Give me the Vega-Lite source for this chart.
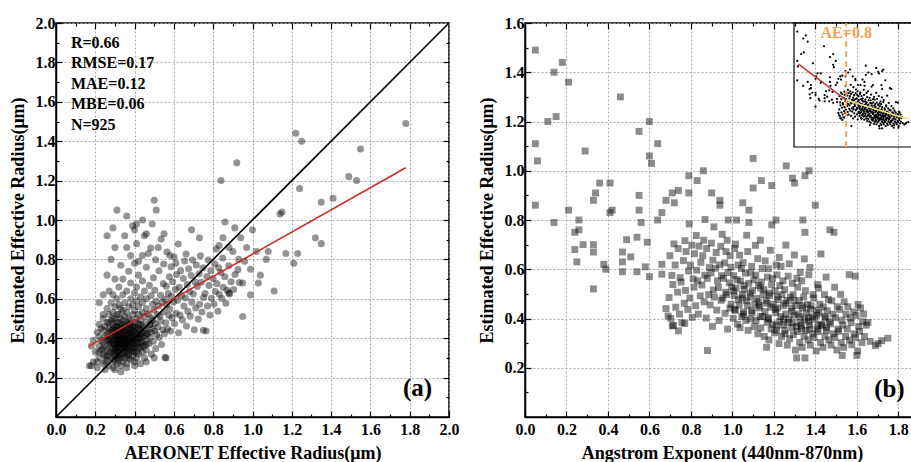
{
"$schema": "https://vega.github.io/schema/vega-lite/v6.json",
"padding": {"left": 8, "top": 14, "right": 0, "bottom": 0},
"spacing": 17,
"background": "white",
"config": {
 "view": {"stroke": "black", "strokeWidth": 1.5},
 "axis": {"labelFont": "Liberation Serif", "labelFontWeight": "bold", "labelFontSize": 16, "labelColor": "black", "labelFlush": false, "labelOverlap": false, "titleFont": "Liberation Serif", "titleFontWeight": "bold", "titleFontSize": 18, "titleColor": "black", "domainColor": "black", "domainWidth": 1.5, "tickColor": "black", "tickWidth": 1.2, "gridColor": "#a8a8a8", "gridDash": [2, 2], "gridWidth": 1},
 "axisX": {"labelPadding": 10, "titlePadding": 4},
 "axisY": {"labelPadding": 7, "titlePadding": 8},
 "text": {"font": "Liberation Serif", "fontWeight": "bold"}
},
"datasets": {
 "a": [
{"x":0.22,"y":0.30},{"x":0.22,"y":0.36},{"x":0.22,"y":0.41},{"x":0.22,"y":0.47},{"x":0.22,"y":0.33},
{"x":0.24,"y":0.27},{"x":0.24,"y":0.32},{"x":0.24,"y":0.38},{"x":0.24,"y":0.44},{"x":0.24,"y":0.50},{"x":0.24,"y":0.35},
{"x":0.26,"y":0.29},{"x":0.26,"y":0.34},{"x":0.26,"y":0.39},{"x":0.26,"y":0.42},{"x":0.26,"y":0.48},{"x":0.26,"y":0.55},{"x":0.26,"y":0.31},
{"x":0.27,"y":0.26},{"x":0.27,"y":0.37},{"x":0.27,"y":0.45},{"x":0.27,"y":0.52},{"x":0.27,"y":0.40},
{"x":0.28,"y":0.30},{"x":0.28,"y":0.33},{"x":0.28,"y":0.36},{"x":0.28,"y":0.41},{"x":0.28,"y":0.44},{"x":0.28,"y":0.49},{"x":0.28,"y":0.58},{"x":0.28,"y":0.38},
{"x":0.29,"y":0.25},{"x":0.29,"y":0.32},{"x":0.29,"y":0.39},{"x":0.29,"y":0.43},{"x":0.29,"y":0.47},{"x":0.29,"y":0.53},{"x":0.29,"y":0.62},
{"x":0.30,"y":0.28},{"x":0.30,"y":0.31},{"x":0.30,"y":0.35},{"x":0.30,"y":0.37},{"x":0.30,"y":0.40},{"x":0.30,"y":0.42},{"x":0.30,"y":0.46},{"x":0.30,"y":0.50},{"x":0.30,"y":0.56},{"x":0.30,"y":0.34},
{"x":0.31,"y":0.27},{"x":0.31,"y":0.33},{"x":0.31,"y":0.36},{"x":0.31,"y":0.39},{"x":0.31,"y":0.41},{"x":0.31,"y":0.44},{"x":0.31,"y":0.48},{"x":0.31,"y":0.60},{"x":0.31,"y":0.38},
{"x":0.32,"y":0.29},{"x":0.32,"y":0.31},{"x":0.32,"y":0.34},{"x":0.32,"y":0.37},{"x":0.32,"y":0.40},{"x":0.32,"y":0.43},{"x":0.32,"y":0.45},{"x":0.32,"y":0.52},{"x":0.32,"y":0.57},{"x":0.32,"y":0.66},{"x":0.32,"y":0.36},
{"x":0.33,"y":0.26},{"x":0.33,"y":0.30},{"x":0.33,"y":0.35},{"x":0.33,"y":0.38},{"x":0.33,"y":0.41},{"x":0.33,"y":0.44},{"x":0.33,"y":0.47},{"x":0.33,"y":0.50},{"x":0.33,"y":0.39},
{"x":0.34,"y":0.28},{"x":0.34,"y":0.32},{"x":0.34,"y":0.36},{"x":0.34,"y":0.39},{"x":0.34,"y":0.42},{"x":0.34,"y":0.46},{"x":0.34,"y":0.49},{"x":0.34,"y":0.54},{"x":0.34,"y":0.62},{"x":0.34,"y":0.70},{"x":0.34,"y":0.37},
{"x":0.35,"y":0.30},{"x":0.35,"y":0.33},{"x":0.35,"y":0.37},{"x":0.35,"y":0.40},{"x":0.35,"y":0.43},{"x":0.35,"y":0.45},{"x":0.35,"y":0.51},{"x":0.35,"y":0.58},{"x":0.35,"y":0.41},
{"x":0.36,"y":0.27},{"x":0.36,"y":0.31},{"x":0.36,"y":0.35},{"x":0.36,"y":0.38},{"x":0.36,"y":0.42},{"x":0.36,"y":0.44},{"x":0.36,"y":0.48},{"x":0.36,"y":0.53},{"x":0.36,"y":0.64},{"x":0.36,"y":0.39},
{"x":0.37,"y":0.32},{"x":0.37,"y":0.36},{"x":0.37,"y":0.40},{"x":0.37,"y":0.43},{"x":0.37,"y":0.47},{"x":0.37,"y":0.50},{"x":0.37,"y":0.56},{"x":0.37,"y":0.74},
{"x":0.38,"y":0.29},{"x":0.38,"y":0.34},{"x":0.38,"y":0.38},{"x":0.38,"y":0.41},{"x":0.38,"y":0.45},{"x":0.38,"y":0.49},{"x":0.38,"y":0.60},{"x":0.38,"y":0.68},{"x":0.38,"y":0.40},
{"x":0.39,"y":0.31},{"x":0.39,"y":0.35},{"x":0.39,"y":0.39},{"x":0.39,"y":0.42},{"x":0.39,"y":0.46},{"x":0.39,"y":0.52},{"x":0.39,"y":0.57},
{"x":0.40,"y":0.28},{"x":0.40,"y":0.33},{"x":0.40,"y":0.37},{"x":0.40,"y":0.41},{"x":0.40,"y":0.44},{"x":0.40,"y":0.48},{"x":0.40,"y":0.54},{"x":0.40,"y":0.63},{"x":0.40,"y":0.78},{"x":0.40,"y":0.43},
{"x":0.41,"y":0.30},{"x":0.41,"y":0.36},{"x":0.41,"y":0.40},{"x":0.41,"y":0.45},{"x":0.41,"y":0.50},{"x":0.41,"y":0.59},{"x":0.41,"y":0.66},
{"x":0.42,"y":0.32},{"x":0.42,"y":0.38},{"x":0.42,"y":0.42},{"x":0.42,"y":0.47},{"x":0.42,"y":0.52},{"x":0.42,"y":0.56},{"x":0.42,"y":0.72},
{"x":0.43,"y":0.27},{"x":0.43,"y":0.35},{"x":0.43,"y":0.40},{"x":0.43,"y":0.44},{"x":0.43,"y":0.49},{"x":0.43,"y":0.61},
{"x":0.44,"y":0.33},{"x":0.44,"y":0.38},{"x":0.44,"y":0.43},{"x":0.44,"y":0.46},{"x":0.44,"y":0.53},{"x":0.44,"y":0.58},{"x":0.44,"y":0.69},{"x":0.44,"y":0.82},
{"x":0.45,"y":0.30},{"x":0.45,"y":0.36},{"x":0.45,"y":0.41},{"x":0.45,"y":0.45},{"x":0.45,"y":0.51},{"x":0.45,"y":0.64},
{"x":0.46,"y":0.34},{"x":0.46,"y":0.39},{"x":0.46,"y":0.44},{"x":0.46,"y":0.48},{"x":0.46,"y":0.55},{"x":0.46,"y":0.60},{"x":0.46,"y":0.76},
{"x":0.473,"y":0.372},{"x":0.466,"y":0.423},{"x":0.478,"y":0.468},{"x":0.469,"y":0.523},{"x":0.475,"y":0.668},
{"x":0.486,"y":0.318},{"x":0.479,"y":0.404},{"x":0.488,"y":0.447},{"x":0.483,"y":0.503},{"x":0.491,"y":0.572},{"x":0.484,"y":0.617},{"x":0.482,"y":0.858},
{"x":0.495,"y":0.383},{"x":0.502,"y":0.437},{"x":0.493,"y":0.493},{"x":0.498,"y":0.543},{"x":0.496,"y":0.707},
{"x":0.507,"y":0.347},{"x":0.512,"y":0.418},{"x":0.505,"y":0.474},{"x":0.516,"y":0.522},{"x":0.509,"y":0.587},{"x":0.503,"y":0.643},{"x":0.507,"y":0.798},
{"x":0.525,"y":0.403},{"x":0.518,"y":0.457},{"x":0.528,"y":0.512},{"x":0.521,"y":0.563},{"x":0.532,"y":0.618},{"x":0.524,"y":0.742},
{"x":0.537,"y":0.368},{"x":0.544,"y":0.443},{"x":0.533,"y":0.487},{"x":0.541,"y":0.584},{"x":0.546,"y":0.677},{"x":0.535,"y":0.903},
{"x":0.552,"y":0.423},{"x":0.559,"y":0.478},{"x":0.549,"y":0.534},{"x":0.557,"y":0.598},{"x":0.561,"y":0.664},{"x":0.548,"y":0.777},{"x":0.555,"y":0.302},
{"x":0.567,"y":0.447},{"x":0.574,"y":0.516},{"x":0.563,"y":0.568},{"x":0.571,"y":0.627},{"x":0.577,"y":0.712},{"x":0.565,"y":0.838},
{"x":0.583,"y":0.437},{"x":0.591,"y":0.503},{"x":0.579,"y":0.548},{"x":0.588,"y":0.613},{"x":0.594,"y":0.687},{"x":0.586,"y":0.763},
{"x":0.603,"y":0.473},{"x":0.611,"y":0.527},{"x":0.598,"y":0.584},{"x":0.607,"y":0.647},{"x":0.614,"y":0.723},{"x":0.601,"y":0.812},
{"x":0.624,"y":0.428},{"x":0.631,"y":0.517},{"x":0.619,"y":0.593},{"x":0.627,"y":0.658},{"x":0.634,"y":0.743},{"x":0.622,"y":0.878},
{"x":0.643,"y":0.493},{"x":0.651,"y":0.563},{"x":0.639,"y":0.617},{"x":0.648,"y":0.703},{"x":0.655,"y":0.792},
{"x":0.664,"y":0.462},{"x":0.671,"y":0.537},{"x":0.659,"y":0.604},{"x":0.668,"y":0.673},{"x":0.675,"y":0.752},{"x":0.662,"y":0.827},
{"x":0.683,"y":0.512},{"x":0.691,"y":0.583},{"x":0.679,"y":0.637},{"x":0.688,"y":0.718},{"x":0.695,"y":0.797},
{"x":0.704,"y":0.443},{"x":0.711,"y":0.553},{"x":0.699,"y":0.624},{"x":0.708,"y":0.687},{"x":0.714,"y":0.772},
{"x":0.724,"y":0.497},{"x":0.731,"y":0.572},{"x":0.719,"y":0.663},{"x":0.728,"y":0.727},{"x":0.735,"y":0.818},
{"x":0.743,"y":0.533},{"x":0.751,"y":0.607},{"x":0.739,"y":0.684},{"x":0.748,"y":0.758},
{"x":0.764,"y":0.437},{"x":0.771,"y":0.563},{"x":0.759,"y":0.627},{"x":0.768,"y":0.713},{"x":0.775,"y":0.797},
{"x":0.783,"y":0.518},{"x":0.791,"y":0.603},{"x":0.779,"y":0.668},{"x":0.788,"y":0.743},
{"x":0.804,"y":0.573},{"x":0.811,"y":0.637},{"x":0.799,"y":0.703},{"x":0.808,"y":0.777},{"x":0.815,"y":0.853},
{"x":0.824,"y":0.537},{"x":0.831,"y":0.623},{"x":0.819,"y":0.677},{"x":0.828,"y":0.758},
{"x":0.843,"y":0.603},{"x":0.851,"y":0.658},{"x":0.839,"y":0.733},{"x":0.848,"y":0.807},
{"x":0.864,"y":0.577},{"x":0.871,"y":0.643},{"x":0.859,"y":0.712},
{"x":0.883,"y":0.624},{"x":0.891,"y":0.687},{"x":0.879,"y":0.768},
{"x":0.904,"y":0.647},{"x":0.911,"y":0.723},{"x":0.933,"y":0.683},{"x":0.926,"y":0.748},
{"x":0.23,"y":0.34},{"x":0.23,"y":0.39},{"x":0.23,"y":0.45},
{"x":0.25,"y":0.31},{"x":0.25,"y":0.36},{"x":0.25,"y":0.41},{"x":0.25,"y":0.46},{"x":0.25,"y":0.28},
{"x":0.27,"y":0.33},{"x":0.27,"y":0.39},{"x":0.27,"y":0.43},{"x":0.27,"y":0.48},
{"x":0.29,"y":0.29},{"x":0.29,"y":0.35},{"x":0.29,"y":0.37},{"x":0.29,"y":0.41},{"x":0.29,"y":0.45},{"x":0.29,"y":0.50},
{"x":0.30,"y":0.33},{"x":0.30,"y":0.39},{"x":0.30,"y":0.44},
{"x":0.31,"y":0.30},{"x":0.31,"y":0.35},{"x":0.31,"y":0.42},{"x":0.31,"y":0.46},{"x":0.31,"y":0.52},
{"x":0.32,"y":0.33},{"x":0.32,"y":0.38},{"x":0.32,"y":0.41},{"x":0.32,"y":0.48},
{"x":0.33,"y":0.32},{"x":0.33,"y":0.37},{"x":0.33,"y":0.42},{"x":0.33,"y":0.45},{"x":0.33,"y":0.55},
{"x":0.34,"y":0.34},{"x":0.34,"y":0.40},{"x":0.34,"y":0.44},
{"x":0.35,"y":0.35},{"x":0.35,"y":0.38},{"x":0.35,"y":0.42},{"x":0.35,"y":0.47},
{"x":0.36,"y":0.33},{"x":0.36,"y":0.37},{"x":0.36,"y":0.40},{"x":0.36,"y":0.46},
{"x":0.37,"y":0.30},{"x":0.37,"y":0.34},{"x":0.37,"y":0.38},{"x":0.37,"y":0.42},{"x":0.37,"y":0.45},
{"x":0.38,"y":0.36},{"x":0.38,"y":0.43},{"x":0.38,"y":0.47},
{"x":0.39,"y":0.33},{"x":0.39,"y":0.37},{"x":0.39,"y":0.40},{"x":0.39,"y":0.44},
{"x":0.40,"y":0.35},{"x":0.40,"y":0.39},{"x":0.40,"y":0.46},
{"x":0.41,"y":0.33},{"x":0.41,"y":0.38},{"x":0.41,"y":0.42},
{"x":0.42,"y":0.35},{"x":0.42,"y":0.40},{"x":0.42,"y":0.45},
{"x":0.43,"y":0.38},{"x":0.43,"y":0.42},{"x":0.43,"y":0.47},
{"x":0.44,"y":0.36},{"x":0.44,"y":0.41},{"x":0.46,"y":0.37},{"x":0.46,"y":0.42},{"x":0.48,"y":0.43},{"x":0.48,"y":0.47},
{"x":0.17,"y":0.26},{"x":0.19,"y":0.28},{"x":0.20,"y":0.33},{"x":0.21,"y":0.43},{"x":0.19,"y":0.39},{"x":0.18,"y":0.36},{"x":0.21,"y":0.25},{"x":0.25,"y":0.24},{"x":0.30,"y":0.24},{"x":0.33,"y":0.23},{"x":0.36,"y":0.25},{"x":0.40,"y":0.26},{"x":0.46,"y":0.28},{"x":0.50,"y":0.30},
{"x":0.26,"y":0.72},{"x":0.28,"y":0.80},{"x":0.30,"y":0.86},{"x":0.33,"y":0.77},{"x":0.36,"y":0.86},{"x":0.38,"y":0.82},{"x":0.35,"y":0.92},{"x":0.41,"y":0.88},{"x":0.45,"y":0.92},{"x":0.39,"y":0.97},{"x":0.30,"y":0.70},{"x":0.27,"y":0.64},{"x":0.24,"y":0.62},{"x":0.42,"y":0.79},{"x":0.47,"y":0.83},{"x":0.52,"y":0.86},{"x":0.58,"y":0.82},{"x":0.61,"y":0.78},
{"x":1.78,"y":1.49},{"x":1.22,"y":1.44},{"x":1.25,"y":1.40},{"x":1.55,"y":1.36},{"x":0.92,"y":1.29},{"x":0.84,"y":1.20},{"x":1.49,"y":1.22},{"x":1.53,"y":1.20},{"x":1.24,"y":1.16},{"x":0.50,"y":1.10},{"x":1.41,"y":1.11},{"x":1.35,"y":1.09},{"x":0.31,"y":1.05},{"x":0.51,"y":1.05},{"x":1.15,"y":1.04},{"x":1.14,"y":1.03},{"x":0.36,"y":1.02},{"x":0.44,"y":1.00},{"x":0.86,"y":0.99},{"x":0.41,"y":0.98},{"x":0.49,"y":0.98},{"x":0.29,"y":0.96},{"x":0.91,"y":0.96},{"x":1.00,"y":0.95},{"x":0.40,"y":0.95},{"x":0.46,"y":0.93},{"x":0.69,"y":0.95},{"x":0.26,"y":0.92},{"x":0.55,"y":0.93},{"x":1.32,"y":0.91},{"x":0.73,"y":0.91},{"x":0.85,"y":0.91},{"x":0.94,"y":0.91},{"x":1.35,"y":0.88},{"x":1.21,"y":0.78},{"x":1.17,"y":0.83},{"x":1.23,"y":0.83},{"x":1.07,"y":0.80},{"x":1.11,"y":0.64},{"x":0.95,"y":0.51},{"x":0.99,"y":0.62},{"x":1.03,"y":0.68},{"x":1.08,"y":0.84},{"x":0.99,"y":0.75},{"x":0.95,"y":0.68},{"x":0.88,"y":0.63},{"x":0.75,"y":0.44},{"x":0.56,"y":0.30},{"x":0.18,"y":0.26},{"x":0.21,"y":0.28},{"x":0.22,"y":0.58},{"x":0.24,"y":0.52},
{"x":0.97,"y":0.86},{"x":1.02,"y":0.84},{"x":0.93,"y":0.80},{"x":0.96,"y":0.79},{"x":1.04,"y":0.72},{"x":0.90,"y":0.84},{"x":0.88,"y":0.86},{"x":0.83,"y":0.87}
 ],
 "b": [
{"x":0.05,"y":1.49},{"x":0.14,"y":1.40},{"x":0.18,"y":1.44},{"x":0.21,"y":1.36},{"x":0.46,"y":1.30},{"x":0.15,"y":1.22},{"x":0.11,"y":1.20},{"x":0.60,"y":1.20},{"x":0.05,"y":1.11},{"x":0.55,"y":1.16},{"x":0.64,"y":1.11},{"x":0.06,"y":1.04},{"x":0.29,"y":1.08},{"x":0.60,"y":1.06},{"x":0.61,"y":1.03},{"x":1.10,"y":1.05},{"x":1.26,"y":1.02},{"x":1.37,"y":1.00},{"x":1.35,"y":0.98},{"x":1.29,"y":0.97},{"x":1.30,"y":0.95},{"x":0.86,"y":1.00},{"x":0.79,"y":0.98},{"x":0.83,"y":0.96},{"x":1.14,"y":0.96},{"x":1.19,"y":0.94},{"x":1.10,"y":0.93},{"x":0.36,"y":0.95},{"x":0.41,"y":0.95},{"x":0.34,"y":0.91},{"x":0.33,"y":0.88},{"x":0.55,"y":0.90},{"x":0.74,"y":0.92},{"x":0.71,"y":0.91},{"x":0.68,"y":0.88},{"x":0.72,"y":0.87},{"x":0.79,"y":0.91},{"x":0.90,"y":0.91},{"x":0.94,"y":0.88},{"x":0.94,"y":0.86},{"x":1.05,"y":0.87},{"x":1.08,"y":0.84},{"x":1.40,"y":0.86},{"x":0.05,"y":0.86},{"x":0.21,"y":0.84},{"x":0.42,"y":0.84},{"x":0.41,"y":0.83},{"x":0.55,"y":0.84},{"x":0.14,"y":0.79},{"x":0.26,"y":0.80},{"x":0.26,"y":0.76},{"x":0.24,"y":0.75},{"x":0.56,"y":0.79},{"x":0.64,"y":0.80},{"x":0.66,"y":0.83},{"x":1.34,"y":0.80},{"x":1.35,"y":0.75},{"x":1.47,"y":0.76},{"x":1.49,"y":0.75},{"x":1.21,"y":0.80},{"x":1.19,"y":0.78},{"x":1.08,"y":0.79},{"x":1.02,"y":0.80},{"x":0.98,"y":0.80},
{"x":0.24,"y":0.68},{"x":0.25,"y":0.63},{"x":0.28,"y":0.70},{"x":0.33,"y":0.70},{"x":0.33,"y":0.67},{"x":0.33,"y":0.52},{"x":0.38,"y":0.62},{"x":0.39,"y":0.60},{"x":0.47,"y":0.67},{"x":0.47,"y":0.63},{"x":0.47,"y":0.59},{"x":0.51,"y":0.65},{"x":0.54,"y":0.59},{"x":0.49,"y":0.72},{"x":0.54,"y":0.73},{"x":0.59,"y":0.71},{"x":0.58,"y":0.61},{"x":0.60,"y":0.57},{"x":0.66,"y":0.62},{"x":0.66,"y":0.58},{"x":0.68,"y":0.44},{"x":0.69,"y":0.41},{"x":0.71,"y":0.37},{"x":0.74,"y":0.35},{"x":0.77,"y":0.38},{"x":0.88,"y":0.27},{"x":1.31,"y":0.24},{"x":1.35,"y":0.24},{"x":1.53,"y":0.25},{"x":1.60,"y":0.25},{"x":1.75,"y":0.32},{"x":1.72,"y":0.31},{"x":1.69,"y":0.29},
{"x":0.703,"y":0.40},{"x":0.695,"y":0.485},{"x":0.708,"y":0.575},{"x":0.699,"y":0.655},
{"x":0.716,"y":0.372},{"x":0.727,"y":0.446},{"x":0.713,"y":0.538},{"x":0.724,"y":0.617},{"x":0.718,"y":0.703},
{"x":0.745,"y":0.418},{"x":0.736,"y":0.507},{"x":0.748,"y":0.566},{"x":0.739,"y":0.684},
{"x":0.757,"y":0.383},{"x":0.768,"y":0.462},{"x":0.753,"y":0.548},{"x":0.764,"y":0.635},{"x":0.771,"y":0.716},
{"x":0.785,"y":0.437},{"x":0.774,"y":0.514},{"x":0.789,"y":0.593},{"x":0.777,"y":0.672},
{"x":0.806,"y":0.405},{"x":0.795,"y":0.483},{"x":0.811,"y":0.561},{"x":0.798,"y":0.617},{"x":0.804,"y":0.698},{"x":0.792,"y":0.784},
{"x":0.823,"y":0.452},{"x":0.815,"y":0.527},{"x":0.828,"y":0.596},{"x":0.817,"y":0.663},{"x":0.826,"y":0.737},
{"x":0.836,"y":0.418},{"x":0.845,"y":0.492},{"x":0.833,"y":0.553},{"x":0.848,"y":0.628},{"x":0.839,"y":0.694},
{"x":0.864,"y":0.468},{"x":0.853,"y":0.536},{"x":0.867,"y":0.576},{"x":0.857,"y":0.655},{"x":0.862,"y":0.718},{"x":0.868,"y":0.802},
{"x":0.874,"y":0.402},{"x":0.886,"y":0.497},{"x":0.879,"y":0.563},{"x":0.889,"y":0.607},{"x":0.876,"y":0.684},
{"x":0.904,"y":0.368},{"x":0.893,"y":0.455},{"x":0.908,"y":0.516},{"x":0.897,"y":0.585},{"x":0.906,"y":0.637},{"x":0.899,"y":0.706},{"x":0.911,"y":0.772},
{"x":0.925,"y":0.434},{"x":0.913,"y":0.487},{"x":0.928,"y":0.553},{"x":0.918,"y":0.604},{"x":0.922,"y":0.668},
{"x":0.936,"y":0.392},{"x":0.946,"y":0.474},{"x":0.933,"y":0.526},{"x":0.948,"y":0.574},{"x":0.939,"y":0.618},{"x":0.944,"y":0.693},{"x":0.951,"y":0.742},
{"x":0.965,"y":0.421},{"x":0.954,"y":0.483},{"x":0.968,"y":0.507},{"x":0.957,"y":0.563},{"x":0.963,"y":0.626},{"x":0.969,"y":0.672},
{"x":0.977,"y":0.357},{"x":0.988,"y":0.442},{"x":0.973,"y":0.497},{"x":0.985,"y":0.545},{"x":0.979,"y":0.587},{"x":0.989,"y":0.655},{"x":0.975,"y":0.718},
{"x":1.004,"y":0.401},{"x":0.994,"y":0.458},{"x":1.009,"y":0.493},{"x":0.997,"y":0.528},{"x":1.006,"y":0.574},{"x":0.993,"y":0.608},{"x":1.011,"y":0.684},
{"x":1.025,"y":0.377},{"x":1.013,"y":0.433},{"x":1.029,"y":0.476},{"x":1.018,"y":0.523},{"x":1.022,"y":0.558},{"x":1.028,"y":0.617},{"x":1.015,"y":0.702},
{"x":1.037,"y":0.363},{"x":1.046,"y":0.408},{"x":1.033,"y":0.454},{"x":1.048,"y":0.497},{"x":1.039,"y":0.552},{"x":1.044,"y":0.603},{"x":1.035,"y":0.657},
{"x":1.065,"y":0.392},{"x":1.054,"y":0.426},{"x":1.068,"y":0.472},{"x":1.057,"y":0.518},{"x":1.063,"y":0.584},{"x":1.052,"y":0.627},{"x":1.069,"y":0.738},
{"x":1.076,"y":0.352},{"x":1.087,"y":0.398},{"x":1.073,"y":0.452},{"x":1.085,"y":0.487},{"x":1.079,"y":0.543},{"x":1.089,"y":0.586},{"x":1.074,"y":0.672},
{"x":1.106,"y":0.367},{"x":1.095,"y":0.423},{"x":1.108,"y":0.458},{"x":1.097,"y":0.514},{"x":1.104,"y":0.557},{"x":1.093,"y":0.612},{"x":1.111,"y":0.697},
{"x":1.123,"y":0.338},{"x":1.114,"y":0.392},{"x":1.128,"y":0.443},{"x":1.117,"y":0.482},{"x":1.126,"y":0.534},{"x":1.113,"y":0.576},{"x":1.122,"y":0.643},
{"x":1.137,"y":0.362},{"x":1.146,"y":0.408},{"x":1.133,"y":0.452},{"x":1.148,"y":0.497},{"x":1.139,"y":0.548},{"x":1.144,"y":0.603},{"x":1.135,"y":0.718},
{"x":1.165,"y":0.283},{"x":1.154,"y":0.327},{"x":1.168,"y":0.384},{"x":1.157,"y":0.428},{"x":1.163,"y":0.472},{"x":1.152,"y":0.517},{"x":1.169,"y":0.568},{"x":1.158,"y":0.634},
{"x":1.176,"y":0.313},{"x":1.187,"y":0.357},{"x":1.173,"y":0.403},{"x":1.185,"y":0.446},{"x":1.179,"y":0.493},{"x":1.189,"y":0.537},{"x":1.174,"y":0.602},{"x":1.183,"y":0.677},
{"x":1.204,"y":0.342},{"x":1.194,"y":0.377},{"x":1.209,"y":0.424},{"x":1.197,"y":0.458},{"x":1.206,"y":0.512},{"x":1.193,"y":0.563},{"x":1.211,"y":0.617},
{"x":1.225,"y":0.298},{"x":1.213,"y":0.352},{"x":1.228,"y":0.387},{"x":1.218,"y":0.443},{"x":1.222,"y":0.476},{"x":1.229,"y":0.534},{"x":1.215,"y":0.577},{"x":1.226,"y":0.648},
{"x":1.237,"y":0.327},{"x":1.246,"y":0.374},{"x":1.233,"y":0.408},{"x":1.248,"y":0.452},{"x":1.239,"y":0.497},{"x":1.244,"y":0.553},{"x":1.235,"y":0.612},
{"x":1.265,"y":0.292},{"x":1.254,"y":0.338},{"x":1.268,"y":0.384},{"x":1.257,"y":0.418},{"x":1.263,"y":0.473},{"x":1.252,"y":0.517},{"x":1.269,"y":0.572},{"x":1.258,"y":0.698},
{"x":1.276,"y":0.318},{"x":1.287,"y":0.363},{"x":1.273,"y":0.397},{"x":1.285,"y":0.443},{"x":1.279,"y":0.487},{"x":1.289,"y":0.543},{"x":1.274,"y":0.622},
{"x":1.304,"y":0.272},{"x":1.294,"y":0.334},{"x":1.309,"y":0.368},{"x":1.297,"y":0.413},{"x":1.306,"y":0.452},{"x":1.293,"y":0.497},{"x":1.311,"y":0.563},{"x":1.299,"y":0.658},
{"x":1.325,"y":0.303},{"x":1.313,"y":0.347},{"x":1.328,"y":0.382},{"x":1.318,"y":0.418},{"x":1.322,"y":0.473},{"x":1.315,"y":0.527},{"x":1.327,"y":0.588},
{"x":1.337,"y":0.283},{"x":1.346,"y":0.328},{"x":1.333,"y":0.372},{"x":1.348,"y":0.397},{"x":1.339,"y":0.443},{"x":1.344,"y":0.487},{"x":1.335,"y":0.553},{"x":1.347,"y":0.642},
{"x":1.365,"y":0.313},{"x":1.354,"y":0.352},{"x":1.368,"y":0.388},{"x":1.357,"y":0.424},{"x":1.363,"y":0.457},{"x":1.352,"y":0.513},{"x":1.369,"y":0.578},
{"x":1.376,"y":0.292},{"x":1.387,"y":0.338},{"x":1.373,"y":0.373},{"x":1.385,"y":0.407},{"x":1.379,"y":0.452},{"x":1.389,"y":0.497},{"x":1.374,"y":0.607},
{"x":1.404,"y":0.268},{"x":1.394,"y":0.323},{"x":1.409,"y":0.357},{"x":1.397,"y":0.398},{"x":1.406,"y":0.434},{"x":1.393,"y":0.483},{"x":1.411,"y":0.538},
{"x":1.425,"y":0.303},{"x":1.413,"y":0.347},{"x":1.428,"y":0.377},{"x":1.418,"y":0.423},{"x":1.422,"y":0.458},{"x":1.415,"y":0.523},{"x":1.427,"y":0.662},
{"x":1.437,"y":0.283},{"x":1.446,"y":0.328},{"x":1.433,"y":0.372},{"x":1.448,"y":0.402},{"x":1.439,"y":0.447},{"x":1.444,"y":0.497},
{"x":1.465,"y":0.313},{"x":1.454,"y":0.352},{"x":1.468,"y":0.387},{"x":1.457,"y":0.432},{"x":1.463,"y":0.477},{"x":1.452,"y":0.568},
{"x":1.476,"y":0.292},{"x":1.487,"y":0.338},{"x":1.473,"y":0.378},{"x":1.485,"y":0.418},{"x":1.479,"y":0.472},
{"x":1.504,"y":0.272},{"x":1.494,"y":0.323},{"x":1.509,"y":0.357},{"x":1.497,"y":0.403},{"x":1.506,"y":0.448},{"x":1.493,"y":0.527},
{"x":1.525,"y":0.302},{"x":1.513,"y":0.348},{"x":1.528,"y":0.393},{"x":1.518,"y":0.437},{"x":1.522,"y":0.498},
{"x":1.537,"y":0.283},{"x":1.546,"y":0.327},{"x":1.533,"y":0.373},{"x":1.548,"y":0.418},{"x":1.539,"y":0.468},
{"x":1.565,"y":0.312},{"x":1.554,"y":0.357},{"x":1.568,"y":0.402},{"x":1.557,"y":0.448},{"x":1.563,"y":0.578},
{"x":1.576,"y":0.293},{"x":1.587,"y":0.338},{"x":1.573,"y":0.383},{"x":1.585,"y":0.427},
{"x":1.604,"y":0.268},{"x":1.594,"y":0.322},{"x":1.609,"y":0.368},{"x":1.597,"y":0.412},{"x":1.606,"y":0.457},{"x":1.593,"y":0.572},
{"x":1.625,"y":0.302},{"x":1.613,"y":0.348},{"x":1.628,"y":0.387},{"x":1.618,"y":0.443},
{"x":1.637,"y":0.327},{"x":1.646,"y":0.373},{"x":1.633,"y":0.418},{"x":1.665,"y":0.307},{"x":1.654,"y":0.384},{"x":1.703,"y":0.298},
{"x":1.012,"y":0.437},{"x":1.006,"y":0.512},{"x":1.053,"y":0.418},{"x":1.047,"y":0.483},{"x":1.056,"y":0.534},{"x":1.093,"y":0.432},{"x":1.087,"y":0.503},{"x":1.134,"y":0.407},{"x":1.127,"y":0.468},{"x":1.136,"y":0.524},{"x":1.174,"y":0.398},{"x":1.167,"y":0.462},{"x":1.177,"y":0.503},{"x":1.213,"y":0.372},{"x":1.207,"y":0.437},{"x":1.216,"y":0.488},{"x":1.253,"y":0.352},{"x":1.247,"y":0.398},{"x":1.256,"y":0.462},{"x":1.293,"y":0.383},{"x":1.287,"y":0.428},{"x":1.296,"y":0.473},{"x":1.333,"y":0.358},{"x":1.327,"y":0.407},{"x":1.336,"y":0.452},{"x":1.373,"y":0.357},{"x":1.367,"y":0.403},{"x":1.376,"y":0.438},{"x":1.413,"y":0.372},{"x":1.407,"y":0.413},{"x":1.453,"y":0.362},{"x":1.447,"y":0.408}
 ],
 "diag": [{"x":0,"y":0},{"x":2,"y":2}],
 "fitA": [{"x":0.17,"y":0.36},{"x":1.78,"y":1.265}],
 "fitRed": [{"x":0.07,"y":1.07},{"x":0.8,"y":0.606}],
 "fitYellow": [{"x":0.8,"y":0.606},{"x":1.74,"y":0.36}],
 "one": [{}]
},
"hconcat": [
 {
  "width": 393, "height": 394,
  "layer": [
   {"data": {"name": "a"},
    "mark": {"type": "circle", "size": 50, "color": "black", "opacity": 0.42},
    "encoding": {
     "x": {"field": "x", "type": "quantitative", "scale": {"domain": [0, 2], "nice": false, "zero": false},
      "axis": {"orient": "bottom", "title": "AERONET Effective Radius(μm)", "values": [0,0.1,0.2,0.3,0.4,0.5,0.6,0.7,0.8,0.9,1,1.1,1.2,1.3,1.4,1.5,1.6,1.7,1.8,1.9,2],
       "labelExpr": "round(datum.value*10)%2==1 ? '' : format(datum.value, '.1f')",
       "tickSize": {"condition": {"test": "round(datum.value*10)%2==1", "value": -3}, "value": -6},
       "gridOpacity": {"condition": {"test": "round(datum.value*10)%2==1", "value": 0}, "value": 1}}},
     "y": {"field": "y", "type": "quantitative", "scale": {"domain": [0, 2], "nice": false, "zero": false},
      "axis": {"orient": "left", "title": "Estimated Effective Radius(μm)", "values": [0.1,0.2,0.3,0.4,0.5,0.6,0.7,0.8,0.9,1,1.1,1.2,1.3,1.4,1.5,1.6,1.7,1.8,1.9,2],
       "labelExpr": "round(datum.value*10)%2==1 ? '' : format(datum.value, '.1f')",
       "tickSize": {"condition": {"test": "round(datum.value*10)%2==1", "value": -3}, "value": -6},
       "gridOpacity": {"condition": {"test": "round(datum.value*10)%2==1", "value": 0}, "value": 1}}}
    }},
   {"data": {"name": "diag"},
    "mark": {"type": "line", "color": "black", "strokeWidth": 1.6},
    "encoding": {
     "x": {"field": "x", "type": "quantitative", "axis": {"orient": "top", "labels": false, "title": null, "grid": false, "domain": false, "values": [0.1,0.2,0.3,0.4,0.5,0.6,0.7,0.8,0.9,1,1.1,1.2,1.3,1.4,1.5,1.6,1.7,1.8,1.9],
       "tickSize": {"condition": {"test": "round(datum.value*10)%2==1", "value": -3}, "value": -6}}},
     "y": {"field": "y", "type": "quantitative", "axis": {"orient": "right", "labels": false, "title": null, "grid": false, "domain": false, "values": [0.1,0.2,0.3,0.4,0.5,0.6,0.7,0.8,0.9,1,1.1,1.2,1.3,1.4,1.5,1.6,1.7,1.8,1.9],
       "tickSize": {"condition": {"test": "round(datum.value*10)%2==1", "value": -3}, "value": -6}}}
    }},
   {"data": {"name": "fitA"},
    "mark": {"type": "line", "color": "#cc2b27", "strokeWidth": 1.6},
    "encoding": {"x": {"field": "x", "type": "quantitative", "axis": null}, "y": {"field": "y", "type": "quantitative", "axis": null}}},
   {"data": {"name": "one"},
    "mark": {"type": "text", "align": "left", "baseline": "alphabetic", "fontSize": 16, "lineHeight": 20.6, "color": "black"},
    "encoding": {"x": {"datum": 0.076, "type": "quantitative", "axis": null}, "y": {"datum": 1.875, "type": "quantitative", "axis": null},
     "text": {"value": ["R=0.66", "RMSE=0.17", "MAE=0.12", "MBE=0.06", "N=925"]}}},
   {"data": {"name": "one"},
    "mark": {"type": "text", "align": "right", "baseline": "alphabetic", "fontSize": 25, "color": "black"},
    "encoding": {"x": {"datum": 1.914, "type": "quantitative", "axis": null}, "y": {"datum": 0.107, "type": "quantitative", "axis": null},
     "text": {"value": "(a)"}}}
  ]
 },
 {
  "width": 394, "height": 394,
  "resolve": {"scale": {"x": "independent", "y": "independent"}},
  "layer": [
   {"layer": [
    {"data": {"name": "b"},
     "mark": {"type": "square", "size": 48, "color": "black", "opacity": 0.45},
     "encoding": {
      "x": {"field": "x", "type": "quantitative", "scale": {"domain": [0, 1.9], "nice": false, "zero": false},
       "axis": {"orient": "bottom", "title": "Angstrom Exponent (440nm-870nm)", "values": [0,0.1,0.2,0.3,0.4,0.5,0.6,0.7,0.8,0.9,1,1.1,1.2,1.3,1.4,1.5,1.6,1.7,1.8,1.9],
        "labelExpr": "round(datum.value*10)%2==1 ? '' : format(datum.value, '.1f')",
        "tickSize": {"condition": {"test": "round(datum.value*10)%2==1", "value": -3}, "value": -6},
        "gridOpacity": {"condition": {"test": "round(datum.value*10)%2==1", "value": 0}, "value": 1}}},
      "y": {"field": "y", "type": "quantitative", "scale": {"domain": [0, 1.6], "nice": false, "zero": false},
       "axis": {"orient": "left", "title": "Estimated Effective Radius(μm)", "values": [0.1,0.2,0.3,0.4,0.5,0.6,0.7,0.8,0.9,1,1.1,1.2,1.3,1.4,1.5,1.6],
        "labelExpr": "round(datum.value*10)%2==1 ? '' : format(datum.value, '.1f')",
        "tickSize": {"condition": {"test": "round(datum.value*10)%2==1", "value": -3}, "value": -6},
        "gridOpacity": {"condition": {"test": "round(datum.value*10)%2==1", "value": 0}, "value": 1}}}
     }},
    {"data": {"name": "one"},
     "mark": {"type": "text", "align": "right", "baseline": "alphabetic", "fontSize": 25, "color": "black"},
     "encoding": {
      "x": {"datum": 1.831, "type": "quantitative", "axis": {"orient": "top", "labels": false, "title": null, "grid": false, "domain": false, "values": [0.1,0.2,0.3,0.4,0.5,0.6,0.7,0.8,0.9,1,1.1,1.2,1.3,1.4,1.5,1.6,1.7,1.8],
        "tickSize": {"condition": {"test": "round(datum.value*10)%2==1", "value": -3}, "value": -6}}},
      "y": {"datum": 0.081, "type": "quantitative", "axis": {"orient": "right", "labels": false, "title": null, "grid": false, "domain": false, "values": [0.1,0.2,0.3,0.4,0.5,0.6,0.7,0.8,0.9,1,1.1,1.2,1.3,1.4,1.5],
        "tickSize": {"condition": {"test": "round(datum.value*10)%2==1", "value": -3}, "value": -6}}},
      "text": {"value": "(b)"}}}
   ]},
   {"layer": [
    {"data": {"name": "one"},
     "mark": {"type": "rect", "fill": "transparent", "stroke": "black", "strokeWidth": 1.2},
     "encoding": {
      "x": {"datum": 0, "type": "quantitative", "scale": {"domain": [0, 1.9], "range": [269, 393], "nice": false, "zero": false}, "axis": null},
      "x2": {"datum": 1.9},
      "y": {"datum": 0, "type": "quantitative", "scale": {"domain": [0, 1.6], "range": [124, 0], "nice": false, "zero": false}, "axis": null},
      "y2": {"datum": 1.6}}},
    {"data": {"name": "b"},
     "mark": {"type": "circle", "size": 5, "color": "black", "opacity": 1},
     "encoding": {
      "x": {"field": "x", "type": "quantitative", "scale": {"domain": [0, 1.9], "range": [269, 393], "nice": false, "zero": false}, "axis": null},
      "y": {"field": "y", "type": "quantitative", "scale": {"domain": [0, 1.6], "range": [124, 0], "nice": false, "zero": false}, "axis": null}}},
    {"data": {"name": "fitRed"},
     "mark": {"type": "line", "color": "#b83a3a", "strokeWidth": 1.6},
     "encoding": {
      "x": {"field": "x", "type": "quantitative", "axis": null},
      "y": {"field": "y", "type": "quantitative", "axis": null}}},
    {"data": {"name": "fitYellow"},
     "mark": {"type": "line", "color": "#f2e27a", "strokeWidth": 1.6},
     "encoding": {
      "x": {"field": "x", "type": "quantitative", "axis": null},
      "y": {"field": "y", "type": "quantitative", "axis": null}}},
    {"data": {"name": "one"},
     "mark": {"type": "rule", "color": "#f0a24e", "strokeWidth": 1.8, "strokeDash": [6, 4]},
     "encoding": {
      "x": {"datum": 0.8, "type": "quantitative", "axis": null},
      "y": {"datum": 0, "type": "quantitative", "axis": null},
      "y2": {"datum": 1.6}}},
    {"data": {"name": "one"},
     "mark": {"type": "text", "align": "center", "baseline": "alphabetic", "fontSize": 16, "color": "#f0a24e"},
     "encoding": {
      "x": {"datum": 0.8, "type": "quantitative", "axis": null},
      "y": {"datum": 1.41, "type": "quantitative", "axis": null},
      "text": {"value": "AE=0.8"}}}
   ]}
  ]
 }
]
}
